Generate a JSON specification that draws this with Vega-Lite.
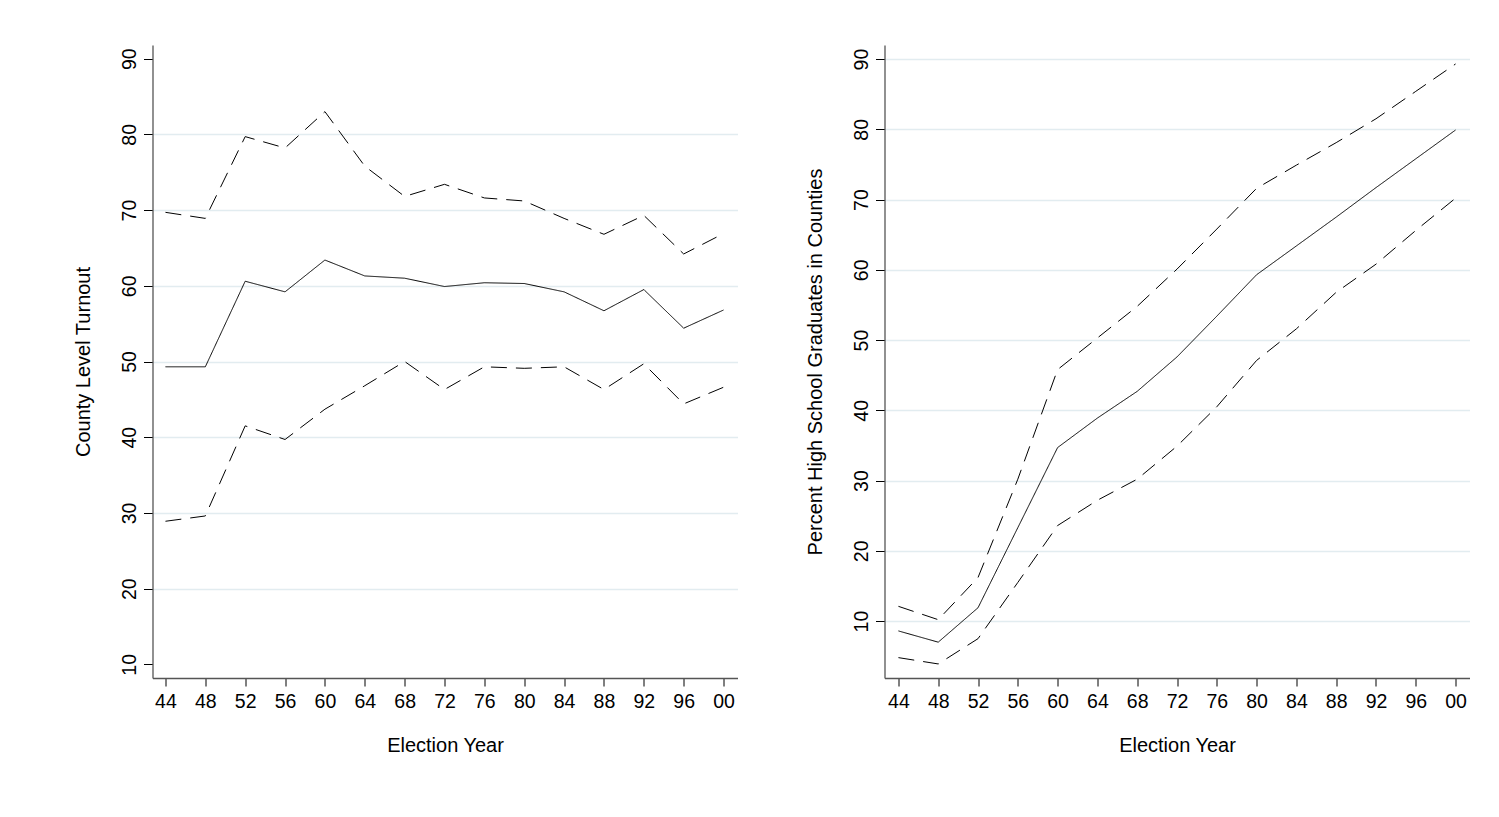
{
  "$schema": "https://vega.github.io/schema/vega-lite/v6.json",
  "background": "white",
  "padding": {"left": 72.5, "top": 45, "right": 5, "bottom": 5},
  "autosize": {"type": "pad"},
  "spacing": 147,
  "bounds": "flush",
  "config": {
    "view": {"stroke": null},
    "font": "Liberation Sans",
    "axis": {
      "labelFont": "Liberation Sans",
      "titleFont": "Liberation Sans",
      "labelFontSize": 19.5,
      "titleFontSize": 20,
      "titleFontWeight": "normal",
      "labelColor": "black",
      "titleColor": "black",
      "tickColor": "black",
      "tickWidth": 1,
      "domainColor": "#555555",
      "domainWidth": 1.3,
      "gridColor": "#e2ecf0",
      "gridWidth": 1.6,
      "labelOverlap": false,
      "labelFlush": false
    },
    "axisX": {"tickSize": 8, "labelPadding": 6, "titlePadding": 25, "grid": false},
    "axisY": {"tickSize": 9, "labelPadding": 8.5, "titlePadding": 26, "labelAngle": 270, "labelAlign": "center", "labelBaseline": "alphabetic"}
  },
  "datasets": {
    "turnout": [
      {"year": 1944, "series": "upper", "value": 69.7},
      {"year": 1948, "series": "upper", "value": 68.9},
      {"year": 1952, "series": "upper", "value": 79.7},
      {"year": 1956, "series": "upper", "value": 78.2},
      {"year": 1960, "series": "upper", "value": 83.0},
      {"year": 1964, "series": "upper", "value": 75.8},
      {"year": 1968, "series": "upper", "value": 71.8},
      {"year": 1972, "series": "upper", "value": 73.4},
      {"year": 1976, "series": "upper", "value": 71.6},
      {"year": 1980, "series": "upper", "value": 71.2},
      {"year": 1984, "series": "upper", "value": 68.9},
      {"year": 1988, "series": "upper", "value": 66.8},
      {"year": 1992, "series": "upper", "value": 69.3},
      {"year": 1996, "series": "upper", "value": 64.2},
      {"year": 2000, "series": "upper", "value": 66.9},
      {"year": 1944, "series": "mean", "value": 49.3},
      {"year": 1948, "series": "mean", "value": 49.3},
      {"year": 1952, "series": "mean", "value": 60.6},
      {"year": 1956, "series": "mean", "value": 59.2},
      {"year": 1960, "series": "mean", "value": 63.4},
      {"year": 1964, "series": "mean", "value": 61.3},
      {"year": 1968, "series": "mean", "value": 61.0},
      {"year": 1972, "series": "mean", "value": 59.9},
      {"year": 1976, "series": "mean", "value": 60.4},
      {"year": 1980, "series": "mean", "value": 60.3},
      {"year": 1984, "series": "mean", "value": 59.2},
      {"year": 1988, "series": "mean", "value": 56.7},
      {"year": 1992, "series": "mean", "value": 59.5},
      {"year": 1996, "series": "mean", "value": 54.4},
      {"year": 2000, "series": "mean", "value": 56.8},
      {"year": 1944, "series": "lower", "value": 28.9},
      {"year": 1948, "series": "lower", "value": 29.6},
      {"year": 1952, "series": "lower", "value": 41.5},
      {"year": 1956, "series": "lower", "value": 39.7},
      {"year": 1960, "series": "lower", "value": 43.7},
      {"year": 1964, "series": "lower", "value": 46.8},
      {"year": 1968, "series": "lower", "value": 50.0},
      {"year": 1972, "series": "lower", "value": 46.3},
      {"year": 1976, "series": "lower", "value": 49.3},
      {"year": 1980, "series": "lower", "value": 49.1},
      {"year": 1984, "series": "lower", "value": 49.3},
      {"year": 1988, "series": "lower", "value": 46.3},
      {"year": 1992, "series": "lower", "value": 49.7},
      {"year": 1996, "series": "lower", "value": 44.4},
      {"year": 2000, "series": "lower", "value": 46.6}
    ],
    "education": [
      {"year": 1944, "series": "upper", "value": 12.1},
      {"year": 1948, "series": "upper", "value": 10.2},
      {"year": 1952, "series": "upper", "value": 16.2},
      {"year": 1956, "series": "upper", "value": 30.2},
      {"year": 1960, "series": "upper", "value": 45.8},
      {"year": 1964, "series": "upper", "value": 50.3},
      {"year": 1968, "series": "upper", "value": 54.8},
      {"year": 1972, "series": "upper", "value": 60.1},
      {"year": 1976, "series": "upper", "value": 65.8},
      {"year": 1980, "series": "upper", "value": 71.6},
      {"year": 1984, "series": "upper", "value": 74.9},
      {"year": 1988, "series": "upper", "value": 78.1},
      {"year": 1992, "series": "upper", "value": 81.5},
      {"year": 1996, "series": "upper", "value": 85.4},
      {"year": 2000, "series": "upper", "value": 89.3},
      {"year": 1944, "series": "mean", "value": 8.6},
      {"year": 1948, "series": "mean", "value": 7.0},
      {"year": 1952, "series": "mean", "value": 11.9},
      {"year": 1956, "series": "mean", "value": 23.3},
      {"year": 1960, "series": "mean", "value": 34.7},
      {"year": 1964, "series": "mean", "value": 38.9},
      {"year": 1968, "series": "mean", "value": 42.7},
      {"year": 1972, "series": "mean", "value": 47.6},
      {"year": 1976, "series": "mean", "value": 53.4},
      {"year": 1980, "series": "mean", "value": 59.3},
      {"year": 1984, "series": "mean", "value": 63.4},
      {"year": 1988, "series": "mean", "value": 67.5},
      {"year": 1992, "series": "mean", "value": 71.7},
      {"year": 1996, "series": "mean", "value": 75.8},
      {"year": 2000, "series": "mean", "value": 79.9},
      {"year": 1944, "series": "lower", "value": 4.8},
      {"year": 1948, "series": "lower", "value": 3.9},
      {"year": 1952, "series": "lower", "value": 7.5},
      {"year": 1956, "series": "lower", "value": 15.5},
      {"year": 1960, "series": "lower", "value": 23.6},
      {"year": 1964, "series": "lower", "value": 27.2},
      {"year": 1968, "series": "lower", "value": 30.2},
      {"year": 1972, "series": "lower", "value": 34.9},
      {"year": 1976, "series": "lower", "value": 40.5},
      {"year": 1980, "series": "lower", "value": 47.1},
      {"year": 1984, "series": "lower", "value": 51.6},
      {"year": 1988, "series": "lower", "value": 56.8},
      {"year": 1992, "series": "lower", "value": 60.8},
      {"year": 1996, "series": "lower", "value": 65.6},
      {"year": 2000, "series": "lower", "value": 70.2}
    ]
  },
  "hconcat": [
    {
      "width": 585,
      "height": 633,
      "data": {"name": "turnout"},
      "mark": {"type": "line", "color": "black", "strokeWidth": 1},
      "encoding": {
        "x": {
          "field": "year", "type": "quantitative",
          "scale": {"domain": [1942.7, 2001.4], "nice": false, "zero": false},
          "axis": {"title": "Election Year", "values": [1944, 1948, 1952, 1956, 1960, 1964, 1968, 1972, 1976, 1980, 1984, 1988, 1992, 1996, 2000], "labelExpr": "substring(toString(datum.value), 2)"}
        },
        "y": {
          "field": "value", "type": "quantitative",
          "scale": {"domain": [8.2, 91.8], "nice": false, "zero": false},
          "axis": {
            "title": "County Level Turnout",
            "values": [10, 20, 30, 40, 50, 60, 70, 80, 90],
            "grid": true,
            "gridOpacity": {"condition": {"test": "datum.value == 10 || datum.value == 90", "value": 0}, "value": 1}
          }
        },
        "strokeDash": {
          "field": "series", "type": "nominal",
          "scale": {"domain": ["mean", "upper", "lower"], "range": [[1, 0], [16, 9], [16, 9]]},
          "legend": null
        }
      }
    },
    {
      "width": 585,
      "height": 633,
      "data": {"name": "education"},
      "mark": {"type": "line", "color": "black", "strokeWidth": 1},
      "encoding": {
        "x": {
          "field": "year", "type": "quantitative",
          "scale": {"domain": [1942.6, 2001.4], "nice": false, "zero": false},
          "axis": {"title": "Election Year", "values": [1944, 1948, 1952, 1956, 1960, 1964, 1968, 1972, 1976, 1980, 1984, 1988, 1992, 1996, 2000], "labelExpr": "substring(toString(datum.value), 2)"}
        },
        "y": {
          "field": "value", "type": "quantitative",
          "scale": {"domain": [1.9, 92.0], "nice": false, "zero": false},
          "axis": {
            "title": "Percent High School Graduates in Counties",
            "values": [10, 20, 30, 40, 50, 60, 70, 80, 90],
            "grid": true
          }
        },
        "strokeDash": {
          "field": "series", "type": "nominal",
          "scale": {"domain": ["mean", "upper", "lower"], "range": [[1, 0], [16, 9], [16, 9]]},
          "legend": null
        }
      }
    }
  ]
}
